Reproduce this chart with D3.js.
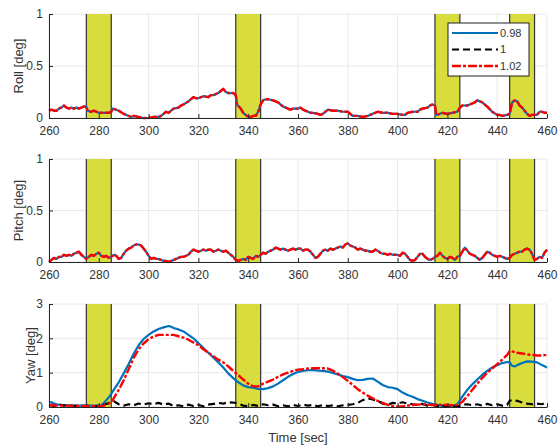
<!DOCTYPE html>
<html>
<head>
<meta charset="utf-8">
<script src="https://cdn.jsdelivr.net/npm/d3@7/dist/d3.min.js"></script>
<style>
  body { margin: 0; background: #fff; }
  svg { display: block; font-family: "Liberation Sans", Arial, sans-serif; }
</style>
</head>
<body>
<svg id="chart" width="560" height="445"></svg>
<script>
// time axis
var timeDomain = [260, 460];
var timeTicks = [260, 280, 300, 320, 340, 360, 380, 400, 420, 440, 460];
// highlighted intervals [start, end] in sec
var bands = [[275, 285], [335, 345], [415, 425], [445, 455]];
var seriesNames = ["0.98", "1", "1.02"];

// roll [deg] (all three runs overlap)
var roll = [[260,0.07],[261,0.08],[262,0.07],[263,0.07],[264,0.09],[265,0.1],[266,0.12],[267,0.1],[268,0.09],[269,0.1],[270,0.09],[271,0.1],[272,0.09],[273,0.1],[274,0.11],[275,0.11],[275.5,0.07],[277,0.06],[278,0.07],[280,0.05],[282,0.05],[284,0.05],[285,0.06],[285.5,0.09],[287,0.08],[288,0.07],[290,0.04],[292,0.02],[293,0.01],[294,0.02],[296,0.01],[298,0.0],[300,0.0],[302,0.01],[304,0.01],[305,0.02],[306,0.04],[307,0.06],[308,0.05],[310,0.09],[312,0.1],[313,0.12],[314,0.13],[316,0.16],[317,0.18],[318,0.2],[319,0.19],[320,0.19],[322,0.21],[324,0.2],[325,0.22],[326,0.22],[328,0.24],[329,0.26],[330,0.28],[331,0.25],[332,0.24],[334,0.24],[335,0.22],[335.5,0.13],[337,0.09],[338,0.05],[339,0.03],[340,0.01],[341,0.01],[342,0.02],[343,0.02],[344,0.06],[345,0.13],[346,0.17],[347,0.18],[348,0.18],[350,0.17],[352,0.15],[354,0.11],[356,0.09],[357,0.08],[358,0.09],[360,0.09],[361,0.1],[362,0.08],[364,0.06],[365,0.05],[366,0.05],[368,0.04],[369,0.03],[370,0.04],[371,0.06],[372,0.08],[374,0.07],[376,0.07],[378,0.06],[379,0.06],[380,0.06],[381,0.04],[382,0.02],[384,0.02],[386,0.01],[388,0.02],[390,0.04],[392,0.06],[394,0.05],[396,0.05],[398,0.04],[400,0.04],[402,0.03],[403,0.03],[404,0.05],[406,0.06],[408,0.06],[409,0.08],[410,0.09],[412,0.1],[413,0.12],[414,0.13],[415,0.12],[415.5,0.03],[417,0.04],[418,0.05],[420,0.04],[422,0.05],[424,0.06],[425,0.1],[426,0.12],[428,0.12],[430,0.14],[431,0.15],[432,0.17],[433,0.16],[434,0.15],[436,0.11],[438,0.06],[440,0.03],[441,0.03],[442,0.02],[444,0.03],[445,0.04],[446,0.15],[447,0.17],[448,0.16],[449,0.12],[450,0.1],[451,0.07],[452,0.04],[453,0.02],[454,0.03],[456,0.03],[457,0.06],[458,0.06],[459,0.05],[460,0.05]];

// pitch [deg] (all three runs overlap)
var pitch = [[260,0.0],[261,0.02],[262,0.04],[263,0.03],[264,0.05],[265,0.05],[266,0.07],[267,0.06],[268,0.07],[269,0.06],[270,0.08],[271,0.09],[272,0.1],[273,0.07],[274,0.05],[275,0.03],[276,0.05],[277,0.07],[278,0.06],[279,0.08],[280,0.09],[281,0.06],[282,0.05],[283,0.06],[284,0.04],[285,0.05],[286,0.07],[287,0.06],[288,0.03],[289,0.04],[290,0.08],[291,0.11],[292,0.13],[293,0.14],[294,0.16],[295,0.17],[296,0.17],[297,0.16],[298,0.13],[299,0.1],[300,0.06],[301,0.03],[302,0.04],[303,0.03],[304,0.03],[305,0.02],[306,0.01],[307,0.01],[308,0.0],[309,0.01],[310,0.02],[311,0.03],[312,0.04],[313,0.05],[314,0.05],[315,0.06],[316,0.07],[317,0.1],[318,0.12],[319,0.11],[320,0.1],[321,0.11],[322,0.12],[323,0.11],[324,0.12],[325,0.12],[326,0.1],[327,0.11],[328,0.12],[329,0.11],[330,0.1],[331,0.11],[332,0.09],[333,0.07],[334,0.05],[335,0.02],[336,0.01],[337,0.02],[338,0.03],[339,0.02],[340,0.05],[341,0.04],[342,0.03],[343,0.06],[344,0.05],[345,0.07],[346,0.09],[347,0.08],[348,0.1],[349,0.11],[350,0.12],[351,0.14],[352,0.13],[353,0.12],[354,0.13],[355,0.12],[356,0.11],[357,0.12],[358,0.13],[359,0.12],[360,0.13],[361,0.13],[362,0.11],[363,0.12],[364,0.12],[365,0.1],[366,0.07],[367,0.04],[368,0.05],[369,0.08],[370,0.11],[371,0.12],[372,0.11],[373,0.13],[374,0.12],[375,0.13],[376,0.14],[377,0.15],[378,0.14],[379,0.17],[380,0.18],[381,0.16],[382,0.15],[383,0.14],[384,0.12],[385,0.13],[386,0.12],[387,0.11],[388,0.11],[389,0.1],[390,0.1],[391,0.12],[392,0.11],[393,0.09],[394,0.08],[395,0.08],[396,0.07],[397,0.08],[398,0.07],[399,0.07],[400,0.07],[401,0.06],[402,0.09],[403,0.08],[404,0.05],[405,0.02],[406,0.01],[407,0.02],[408,0.05],[409,0.08],[410,0.08],[411,0.05],[412,0.03],[413,0.02],[414,0.03],[415,0.05],[416,0.06],[417,0.09],[418,0.06],[419,0.04],[420,0.03],[421,0.05],[422,0.04],[423,0.02],[424,0.05],[425,0.06],[426,0.1],[427,0.14],[428,0.11],[429,0.08],[430,0.07],[431,0.06],[432,0.04],[433,0.02],[434,0.04],[435,0.07],[436,0.1],[437,0.09],[438,0.07],[439,0.06],[440,0.05],[441,0.06],[442,0.05],[443,0.04],[444,0.03],[445,0.04],[446,0.07],[447,0.08],[448,0.09],[449,0.1],[450,0.1],[451,0.12],[452,0.13],[453,0.12],[454,0.08],[455,0.02],[456,0.03],[457,0.05],[458,0.04],[459,0.09],[460,0.12]];

// yaw [deg], one array per run
var yaw098 = [[260,0.13],[261,0.14],[262,0.1],[263,0.08],[265,0.06],[268,0.05],[271,0.04],[274,0.04],[277,0.04],[280,0.03],[281,0.05],[282,0.12],[283,0.2],[284,0.28],[285,0.38],[286,0.5],[288,0.72],[290,0.98],[292,1.25],[294,1.55],[296,1.8],[298,1.98],[300,2.1],[302,2.2],[304,2.27],[306,2.32],[308,2.36],[309,2.34],[310,2.3],[312,2.26],[314,2.2],[316,2.1],[318,2.0],[320,1.86],[322,1.72],[324,1.58],[326,1.44],[328,1.3],[330,1.15],[332,0.98],[334,0.84],[336,0.72],[338,0.63],[340,0.58],[342,0.56],[344,0.53],[346,0.52],[348,0.55],[350,0.6],[352,0.68],[354,0.78],[356,0.88],[358,0.96],[360,1.02],[362,1.05],[364,1.07],[366,1.08],[368,1.06],[370,1.05],[372,1.03],[374,0.99],[376,0.95],[378,0.9],[380,0.87],[382,0.82],[384,0.78],[386,0.79],[388,0.82],[390,0.83],[392,0.74],[394,0.64],[396,0.58],[398,0.56],[400,0.52],[402,0.42],[404,0.35],[406,0.3],[408,0.23],[410,0.18],[412,0.13],[414,0.09],[416,0.06],[418,0.03],[420,0.02],[422,0.03],[424,0.08],[426,0.3],[428,0.5],[430,0.66],[432,0.8],[434,0.94],[436,1.05],[438,1.15],[440,1.22],[442,1.28],[444,1.31],[445,1.3],[446,1.2],[447,1.18],[448,1.22],[450,1.28],[452,1.33],[454,1.32],[456,1.3],[458,1.22],[460,1.15]];
var yaw100 = [[260,0.06],[262,0.03],[264,0.07],[266,0.04],[268,0.06],[270,0.03],[272,0.05],[274,0.03],[276,0.04],[278,0.02],[280,0.04],[282,0.06],[284,0.12],[286,0.17],[288,0.08],[290,0.04],[292,0.08],[294,0.05],[296,0.1],[298,0.07],[300,0.11],[302,0.08],[304,0.12],[306,0.07],[308,0.1],[310,0.03],[312,0.05],[314,0.02],[316,0.07],[318,0.03],[320,0.06],[322,0.02],[324,0.07],[326,0.09],[328,0.12],[330,0.1],[332,0.14],[334,0.13],[336,0.1],[338,0.04],[340,0.02],[342,0.06],[344,0.03],[346,0.08],[348,0.05],[350,0.07],[352,0.02],[354,0.05],[356,0.02],[358,0.06],[360,0.03],[362,0.07],[364,0.04],[366,0.06],[368,0.02],[370,0.06],[372,0.03],[374,0.05],[376,0.02],[378,0.05],[380,0.06],[382,0.08],[384,0.12],[386,0.2],[388,0.25],[390,0.22],[392,0.18],[394,0.1],[396,0.06],[398,0.12],[400,0.1],[402,0.14],[404,0.1],[406,0.08],[408,0.06],[410,0.09],[412,0.04],[414,0.06],[416,0.03],[418,0.05],[420,0.02],[422,0.04],[424,0.02],[426,0.06],[428,0.08],[430,0.05],[432,0.08],[434,0.04],[436,0.09],[438,0.05],[440,0.08],[442,0.04],[444,0.06],[445,0.18],[446,0.2],[448,0.18],[450,0.13],[452,0.1],[454,0.08],[456,0.1],[458,0.08],[460,0.15]];
var yaw102 = [[260,0.06],[262,0.05],[265,0.04],[268,0.04],[271,0.03],[274,0.02],[277,0.03],[280,0.02],[282,0.04],[284,0.1],[285,0.15],[286,0.25],[287,0.38],[288,0.5],[290,0.78],[292,1.1],[294,1.43],[296,1.68],[298,1.85],[300,1.98],[302,2.05],[304,2.1],[306,2.1],[308,2.1],[310,2.1],[312,2.06],[314,2.02],[316,1.96],[318,1.88],[320,1.8],[322,1.68],[324,1.58],[326,1.48],[328,1.38],[330,1.3],[332,1.18],[334,1.05],[336,0.93],[338,0.8],[340,0.68],[342,0.6],[344,0.6],[346,0.68],[348,0.74],[350,0.8],[352,0.88],[354,0.95],[356,1.0],[358,1.05],[360,1.09],[362,1.1],[364,1.12],[366,1.13],[368,1.13],[370,1.13],[372,1.12],[374,1.06],[376,0.97],[378,0.87],[380,0.76],[382,0.64],[384,0.52],[386,0.42],[388,0.33],[390,0.25],[392,0.18],[394,0.12],[396,0.06],[398,0.02],[400,0.01],[402,0.02],[404,0.04],[406,0.06],[408,0.07],[410,0.08],[412,0.07],[414,0.06],[416,0.06],[418,0.07],[420,0.06],[422,0.05],[424,0.06],[426,0.15],[428,0.32],[430,0.5],[432,0.68],[434,0.85],[436,1.0],[438,1.12],[440,1.25],[442,1.38],[444,1.52],[445,1.63],[446,1.62],[448,1.58],[450,1.56],[452,1.53],[454,1.52],[456,1.5],[458,1.5],[460,1.52]];

var styles = [
    {color: "#0072bd", dash: null, width: 2.2},
    {color: "#000000", dash: "7,4", width: 2.2},
    {color: "#ff0000", dash: "9,2,3,2", width: 2.4}
];

var panels = [
    {label: "Roll [deg]", top: 14, bottom: 118, domain: [0, 1], ticks: [0, 0.5, 1], fmt: d3.format("~g"),
     series: [roll, null, roll], labelX: 18, legend: true},
    {label: "Pitch [deg]", top: 159, bottom: 262, domain: [0, 1], ticks: [0, 0.5, 1], fmt: d3.format("~g"),
     series: [pitch, null, pitch], labelX: 18},
    {label: "Yaw [deg]", top: 304, bottom: 407, domain: [0, 3], ticks: [0, 1, 2, 3], fmt: d3.format("d"),
     series: [yaw098, yaw100, yaw102], labelX: 30}
];

var svg = d3.select("#chart"),
    left = 49, right = 547, textColor = "#333";

var x = d3.scaleLinear().domain(timeDomain).range([left, right]);

panels.forEach(function (p) {
    var y = d3.scaleLinear().domain(p.domain).range([p.bottom, p.top]);
    var g = svg.append("g");

    // grid
    g.append("g").selectAll("line").data(timeTicks).enter().append("line")
        .attr("x1", x).attr("x2", x)
        .attr("y1", p.top).attr("y2", p.bottom)
        .attr("stroke", "#e8e8e8").attr("stroke-width", 1);
    g.append("g").selectAll("line").data(p.ticks).enter().append("line")
        .attr("x1", left).attr("x2", right)
        .attr("y1", y).attr("y2", y)
        .attr("stroke", "#e8e8e8").attr("stroke-width", 1);

    // highlighted bands
    var band = g.append("g").selectAll("g").data(bands).enter().append("g");
    band.append("rect")
        .attr("x", function (d) { return x(d[0]); })
        .attr("width", function (d) { return x(d[1]) - x(d[0]); })
        .attr("y", p.top).attr("height", p.bottom - p.top)
        .attr("fill", "#d8dc3c");
    band.selectAll("line").data(function (d) { return d; }).enter().append("line")
        .attr("x1", x).attr("x2", x)
        .attr("y1", p.top).attr("y2", p.bottom)
        .attr("stroke", "#333").attr("stroke-width", 1.2);

    // lines
    var line = d3.line()
        .x(function (d) { return x(d[0]); })
        .y(function (d) { return y(d[1]); });
    p.series.forEach(function (s, i) {
        if (!s) { return; }
        g.append("path")
            .datum(s)
            .attr("d", line)
            .attr("fill", "none")
            .attr("stroke", styles[i].color)
            .attr("stroke-width", styles[i].width)
            .attr("stroke-dasharray", styles[i].dash)
            .attr("stroke-linejoin", "round");
    });

    // axes
    var xAxis = d3.axisBottom(x).tickValues(timeTicks).tickSizeInner(-4).tickSizeOuter(0).tickPadding(8);
    var xg = g.append("g").attr("transform", "translate(0," + p.bottom + ")").call(xAxis);
    var yAxis = d3.axisLeft(y).tickValues(p.ticks).tickFormat(p.fmt).tickSizeInner(-4).tickSizeOuter(0).tickPadding(6);
    var yg = g.append("g").attr("transform", "translate(" + left + ",0)").call(yAxis);
    [xg, yg].forEach(function (a) {
        a.select(".domain").attr("stroke", "#262626").attr("stroke-width", 1);
        a.selectAll(".tick line").attr("stroke", "#262626");
        a.selectAll(".tick text").attr("fill", textColor)
            .style("font-family", "'Liberation Sans', Arial, sans-serif").style("font-size", "12px");
    });

    g.append("text")
        .attr("transform", "translate(" + p.labelX + "," + ((p.top + p.bottom) / 2) + ") rotate(-90)")
        .attr("text-anchor", "middle")
        .attr("dy", "0.35em")
        .attr("fill", textColor)
        .style("font-size", "13px")
        .text(p.label);

    if (p.legend) {
        var lg = g.append("g").attr("transform", "translate(448,23)");
        lg.append("rect").attr("width", 81).attr("height", 53)
            .attr("fill", "#fff").attr("stroke", "#222").attr("stroke-width", 1);
        seriesNames.forEach(function (name, i) {
            var ly = 10 + i * 16.5;
            lg.append("line")
                .attr("x1", 4).attr("x2", 50)
                .attr("y1", ly).attr("y2", ly)
                .attr("stroke", styles[i].color).attr("stroke-width", styles[i].width)
                .attr("stroke-dasharray", styles[i].dash);
            lg.append("text")
                .attr("x", 52).attr("y", ly).attr("dy", "0.35em")
                .attr("fill", textColor).style("font-size", "11px")
                .text(name);
        });
    }
});

svg.append("text")
    .attr("x", 298).attr("y", 437)
    .attr("text-anchor", "middle")
    .attr("dy", "0.35em")
    .attr("fill", textColor)
    .style("font-size", "13px")
    .text("Time [sec]");
</script>
</body>
</html>
